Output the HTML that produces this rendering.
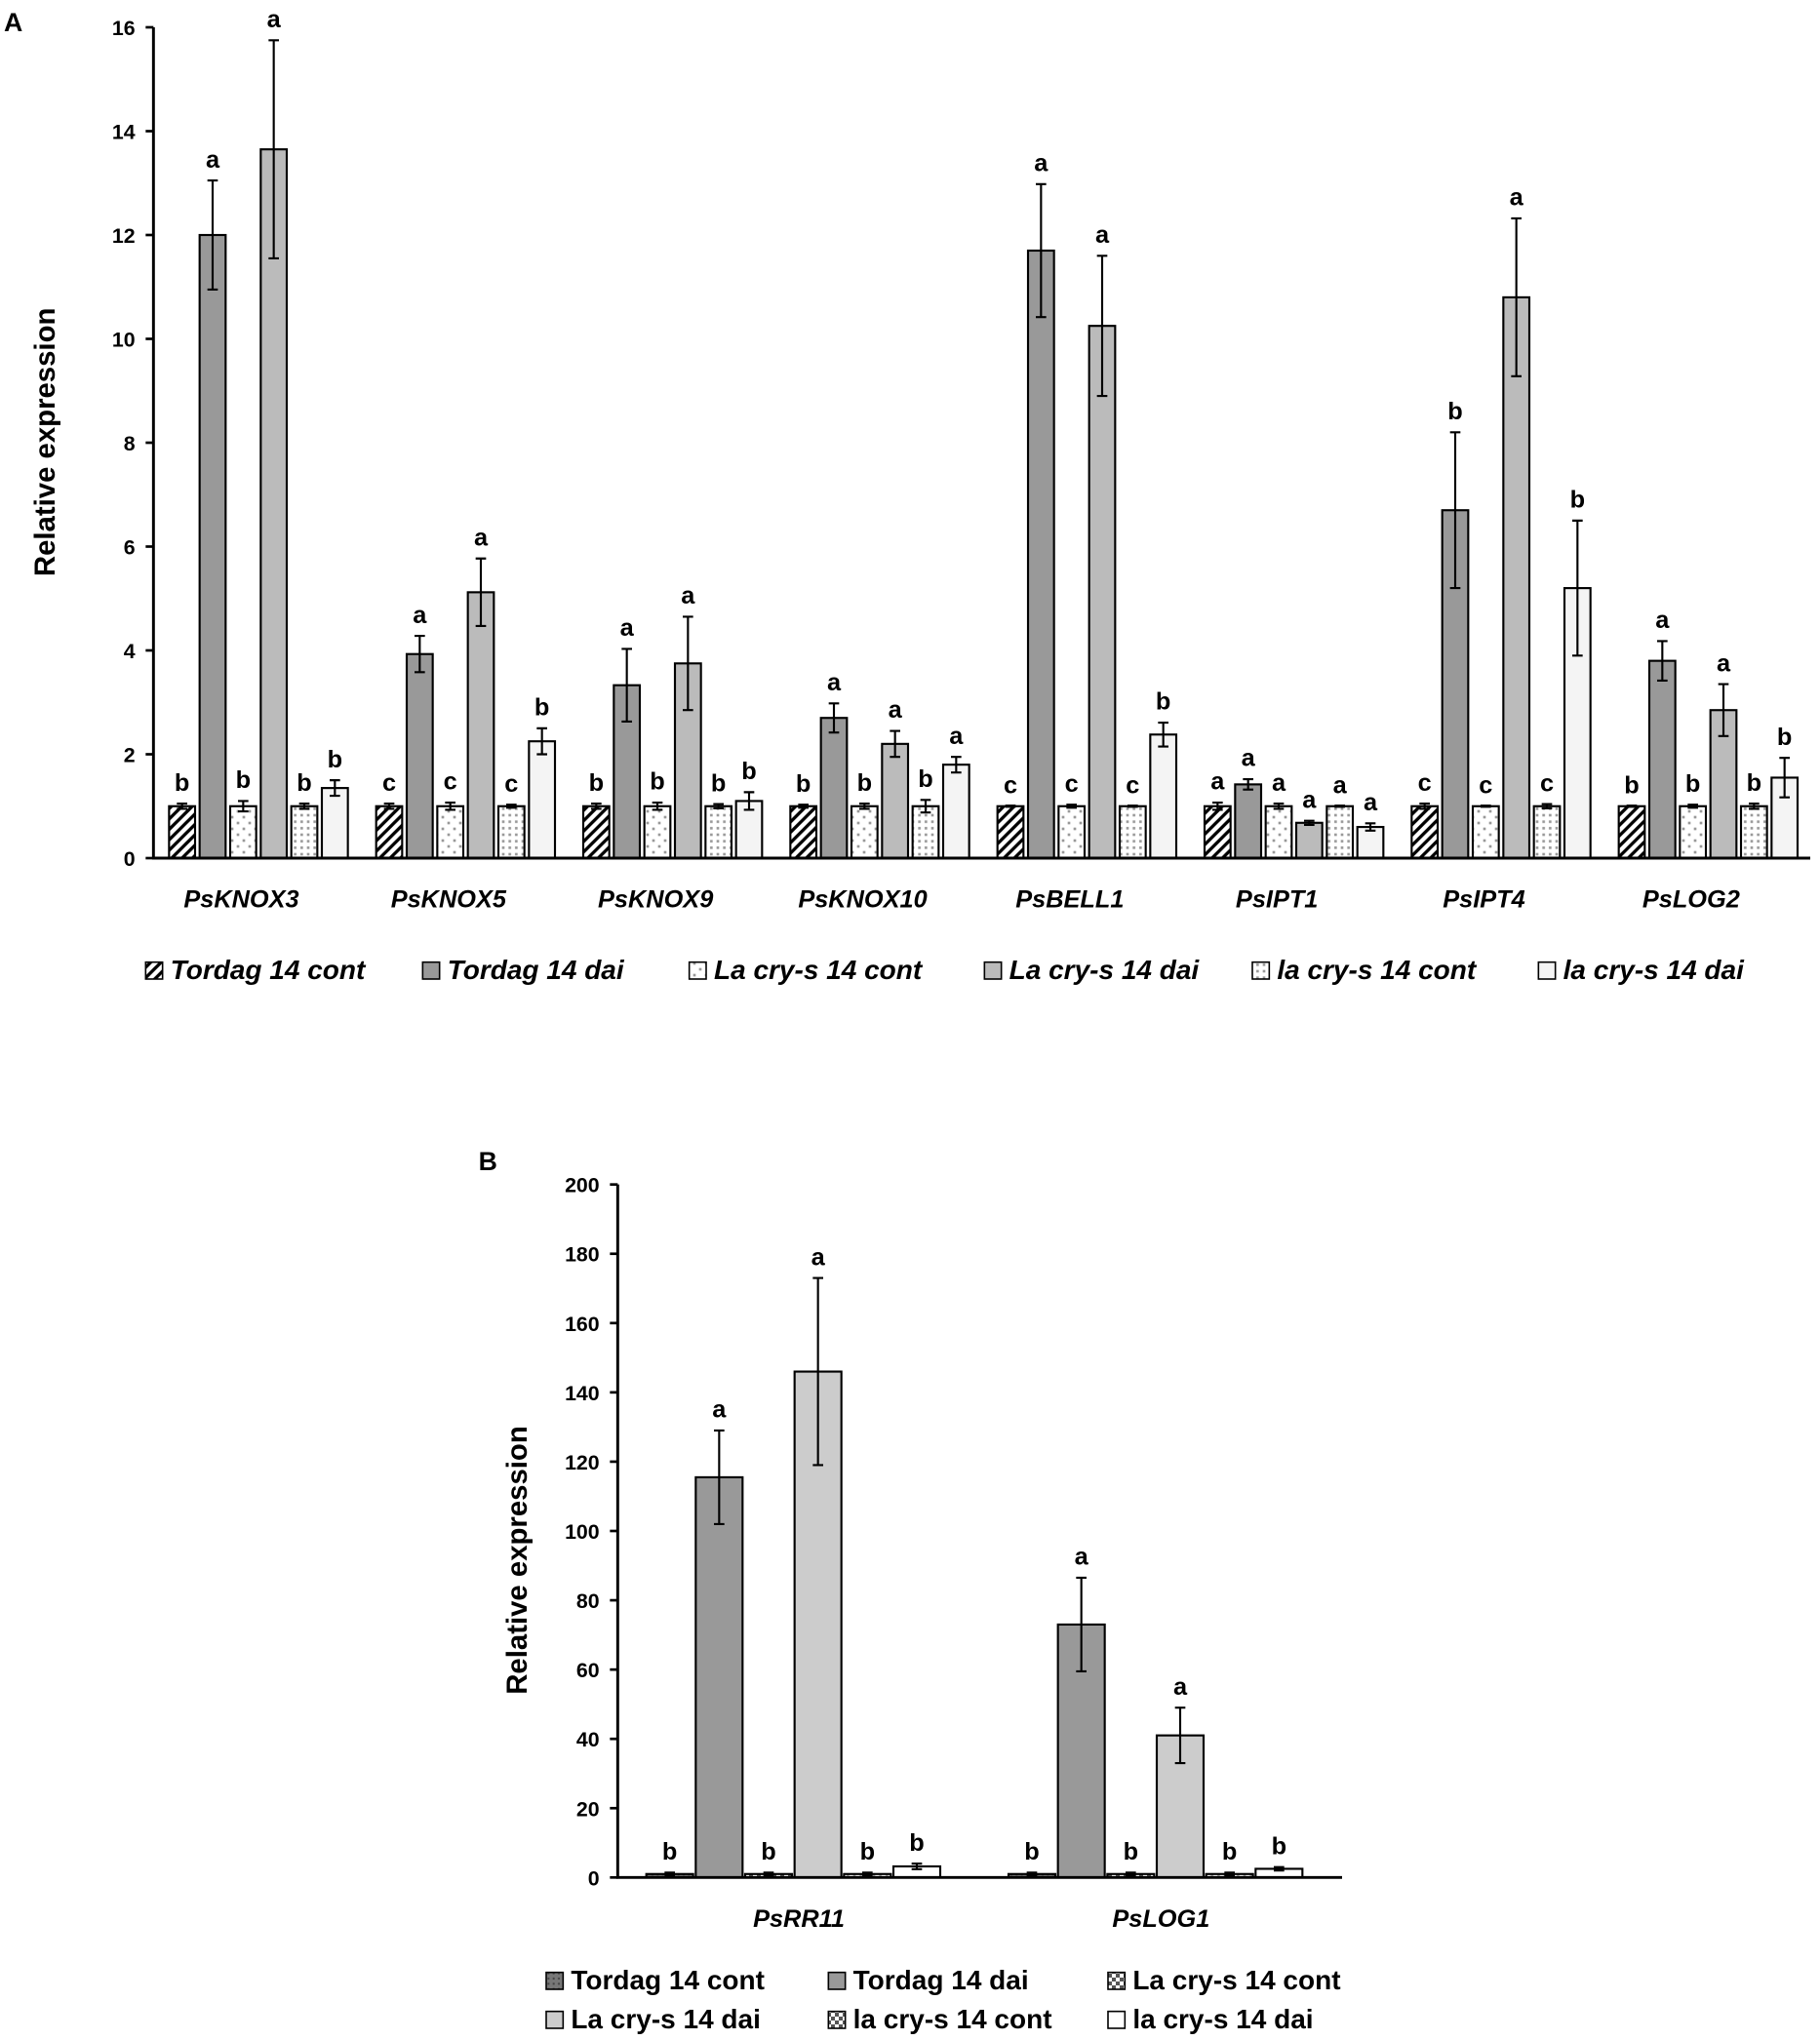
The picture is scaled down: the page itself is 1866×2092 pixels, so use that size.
<!DOCTYPE html>
<html><head><meta charset="utf-8"><style>
html,body{margin:0;padding:0;background:#fff}
svg{display:block}
text{font-family:"Liberation Sans",Arial,sans-serif;font-weight:bold;fill:#000}
</style></head><body>
<svg id="fig" width="1866" height="2092" viewBox="0 0 1399.5 1569" preserveAspectRatio="none" xmlns="http://www.w3.org/2000/svg">
<defs>
<pattern id="hatch" width="8" height="8" patternUnits="userSpaceOnUse"><rect width="8" height="8" fill="#fff"/><path d="M-2,10 L10,-2 M-2,2 L2,-2 M6,10 L10,6" stroke="#000" stroke-width="2.5"/></pattern>
<pattern id="dots" width="9" height="9" patternUnits="userSpaceOnUse"><rect width="9" height="9" fill="#fff"/><rect x="2" y="2" width="2" height="2" fill="#999"/><rect x="6.5" y="6.5" width="2" height="2" fill="#999"/></pattern>
<pattern id="dense" width="5" height="5" patternUnits="userSpaceOnUse"><rect width="5" height="5" fill="#fff"/><rect x="1" y="1" width="2" height="2" fill="#999"/></pattern>
<pattern id="check" width="6" height="6" patternUnits="userSpaceOnUse"><rect width="6" height="6" fill="#fff"/><rect width="3" height="3" fill="#555"/><rect x="3" y="3" width="3" height="3" fill="#555"/></pattern>
<pattern id="darkdot" width="4" height="4" patternUnits="userSpaceOnUse"><rect width="4" height="4" fill="#777"/><rect x="1" y="1" width="1.5" height="1.5" fill="#444"/></pattern>
</defs>
<g id="gA"></g>
<g id="gB"></g>
</svg>
<script>
const genesA=["PsKNOX3","PsKNOX5","PsKNOX9","PsKNOX10","PsBELL1","PsIPT1","PsIPT4","PsLOG2"];
const seriesA=["Tordag 14 cont","Tordag 14 dai","La cry-s 14 cont","La cry-s 14 dai","la cry-s 14 cont","la cry-s 14 dai"];
const tordagContA=[1,1,1,1,1,1,1,1];
const tordagDaiA=[12.0,3.93,3.33,2.7,11.7,1.42,6.7,3.8];
const laContA=[1,1,1,1,1,1,1,1];
const laDaiA=[13.65,5.12,3.75,2.2,10.25,0.68,10.8,2.85];
const laMutContA=[1,1,1,1,1,1,1,1];
const laMutDaiA=[1.35,2.25,1.1,1.8,2.38,0.6,5.2,1.55];
const errA=[[0.05,1.05,0.1,2.1,0.05,0.15],[0.05,0.35,0.07,0.65,0.03,0.25],[0.05,0.7,0.07,0.9,0.04,0.17],[0.03,0.28,0.05,0.25,0.12,0.15],[0,1.28,0.03,1.35,0,0.23],[0.07,0.1,0.05,0.04,0,0.07],[0.05,1.5,0,1.52,0.04,1.3],[0,0.38,0.03,0.5,0.05,0.38]];
const lettersA=[["b","a","b","a","b","b"],["c","a","c","a","c","b"],["b","a","b","a","b","b"],["b","a","b","a","b","a"],["c","a","c","a","c","b"],["a","a","a","a","a","a"],["c","b","c","a","c","b"],["b","a","b","a","b","b"]];
const ticksA=[0,2,4,6,8,10,12,14,16];

const genesB=["PsRR11","PsLOG1"];
const seriesB=["Tordag 14 cont","Tordag 14 dai","La cry-s 14 cont","La cry-s 14 dai","la cry-s 14 cont","la cry-s 14 dai"];
const tordagContB=[1,1];
const tordagDaiB=[115.5,73];
const laContB=[1,1];
const laDaiB=[146,41];
const laMutContB=[1,1];
const laMutDaiB=[3.2,2.5];
const errB=[[0.4,13.5,0.4,27,0.4,0.8],[0.4,13.5,0.4,8,0.4,0.5]];
const lettersB=[["b","a","b","a","b","b"],["b","a","b","a","b","b"]];
const ticksB=[0,20,40,60,80,100,120,140,160,180,200];

const NS="http://www.w3.org/2000/svg";
function mk(p,tag,at,txt){const e=document.createElementNS(NS,tag);for(const k in at)e.setAttribute(k,at[k]);if(txt!==undefined)e.textContent=txt;p.appendChild(e);return e;}

function drawChart(g,o){
  const y=v=>o.y0-(v/o.max)*(o.y0-o.yTop);
  const gw=(o.xEnd-o.x0)/o.cats.length;
  const x=(gi,si)=>o.x0+gi*gw+o.pad+si*o.pitch;
  o.ticks.forEach(t=>{
    const tk=mk(g,"line",{x1:o.x0-6,x2:o.x0,y1:y(t),y2:y(t),stroke:"#000","stroke-width":2});
    
    
    const tl=mk(g,"text",{x:o.x0-14,y:y(t)+6,"text-anchor":"end","font-size":o.tickFs},String(t));
    
    
  });
  o.cats.forEach((c,gi)=>{
    o.vals.forEach((arr,si)=>{
      const v=arr[gi],e=o.err[gi][si],bx=x(gi,si);
      const r=mk(g,"rect",{x:bx,y:y(v),width:o.bw,height:o.y0-y(v),fill:o.fills[si],stroke:"#000","stroke-width":1.6});
      
      
      const cx=bx+o.bw/2;
      if(e>0){
        const eb=mk(g,"path",{d:`M${cx},${y(v+e)}V${y(v-e)}M${cx-4},${y(v+e)}h8M${cx-4},${y(v-e)}h8`,stroke:"#000","stroke-width":1.6,fill:"none"});
        
        
      }else{
        const eb=mk(g,"path",{d:`M${cx-4},${y(v)}h8`,stroke:"#000","stroke-width":2.5});
        
        
      }
      const lt=mk(g,"text",{x:cx,y:y(v+e)-o.lgap,"text-anchor":"middle","font-size":o.letFs},o.letters[gi][si]);
      
      
    });
    const cl=mk(g,"text",{x:o.x0+gi*gw+gw/2+o.catOff,y:o.catY,"text-anchor":"middle","font-size":o.catFs,"font-style":o.catItalic?"italic":"normal"},c);
    
    
  });
  const ax=mk(g,"path",{d:`M${o.x0},${o.yTop}V${o.y0}H${o.xEnd}`,stroke:"#000","stroke-width":2.2,fill:"none"});
  
  
  const yt=mk(g,"text",{x:0,y:0,transform:`translate(${o.titleX},${o.titleY}) rotate(-90)`,"text-anchor":"middle","font-size":o.titleFs},"Relative expression");
  
  
  o.legend.forEach((L,i)=>{
    const b=mk(g,"rect",{x:L[0],y:L[1]-13,width:13,height:13,fill:o.lfills[i],stroke:"#000","stroke-width":1.2});
    
    
    const t=mk(g,"text",{x:L[0]+19,y:L[1],"font-size":o.legFs,"font-style":o.legItalic?"italic":"normal"},o.series[i]);
    
    
  });
}
const gA=document.getElementById("gA"),gB=document.getElementById("gB");
const la=mk(gA,"text",{x:3,y:24,"font-size":20},"A");


drawChart(gA,{cats:genesA,series:seriesA,vals:[tordagContA,tordagDaiA,laContA,laDaiA,laMutContA,laMutDaiA],err:errA,letters:lettersA,ticks:ticksA,
 max:16,x0:118,xEnd:1392,y0:660,yTop:21,pad:12,pitch:23.5,bw:20,
 fills:["url(#hatch)","#999","url(#dots)","#bbb","url(#dense)","#f4f4f4"],
 lfills:["url(#hatch)","#999","url(#dots)","#bbb","url(#dense)","#f4f4f4"],
 tickFs:16,letFs:19,lgap:10,catY:698,catFs:19,catItalic:true,catOff:-12,titleX:42,titleY:340,titleFs:22,
 legend:[[112,753],[325,753],[530,753],[757,753],[963,753],[1183,753]],legFs:21,legItalic:true});
const lb=mk(gB,"text",{x:368,y:900,"font-size":20},"B");


drawChart(gB,{cats:genesB,series:seriesB,vals:[tordagContB,tordagDaiB,laContB,laDaiB,laMutContB,laMutDaiB],err:errB,letters:lettersB,ticks:ticksB,
 max:200,x0:475,xEnd:1032,y0:1444,yTop:911,pad:22,pitch:38,bw:36,
 fills:["url(#darkdot)","#999","url(#check)","#ccc","url(#dense)","#fff"],
 lfills:["url(#darkdot)","#999","url(#check)","#ccc","url(#check)","#fff"],
 tickFs:16,letFs:19,lgap:10,catY:1482,catFs:19,catItalic:true,catOff:0,titleX:405,titleY:1200,titleFs:22,
 legend:[[420,1530],[637,1530],[852,1530],[420,1560],[637,1560],[852,1560]],legFs:21,legItalic:false});
</script>
</body></html>
